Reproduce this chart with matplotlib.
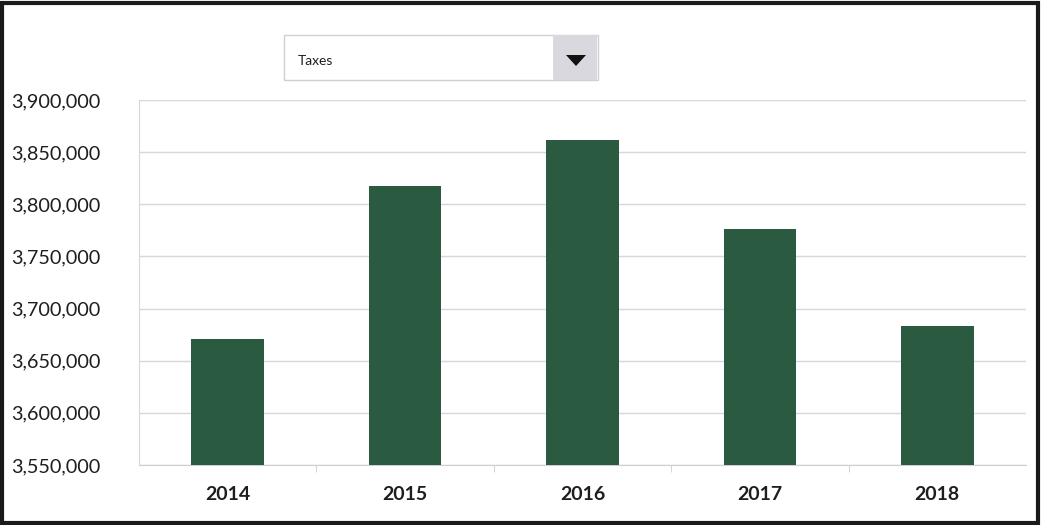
import matplotlib.pyplot as plt
import matplotlib.patches as mpatches
from matplotlib.ticker import FuncFormatter, FixedLocator

years = ["2014", "2015", "2016", "2017", "2018"]
taxes = [3671000, 3818000, 3862000, 3776000, 3683000]
selected = "Taxes"

plt.rcParams['font.family'] = ['Lato', 'DejaVu Sans']

fig = plt.figure(figsize=(10.42, 5.25), dpi=100)
ax = fig.add_axes([139 / 1042, 60 / 525, 887 / 1042, 365 / 525])

x = range(len(years))
ax.bar(x, taxes, width=0.41, color="#2a5a40", zorder=3)

ax.set_xlim(-0.5, len(years) - 0.5)
ax.set_ylim(3550000, 3900000)
ax.set_yticks(range(3550000, 3900001, 50000))
ax.yaxis.set_major_formatter(FuncFormatter(lambda v, p: f"{int(v):,}"))
ax.set_xticks(list(x))
ax.set_xticklabels(years, fontsize=14, fontweight="bold", color="#1e1e1e")
ax.xaxis.set_minor_locator(FixedLocator([i + 0.5 for i in range(len(years) - 1)]))
ax.tick_params(axis="x", which="major", length=0, pad=15)
ax.tick_params(axis="x", which="minor", length=5, color="#cfcfcf")
ax.tick_params(axis="y", length=0, pad=28, labelsize=14.3, labelcolor="#1e1e1e")

ax.grid(axis="y", color="#d6d6dc", linewidth=1, zorder=0)
for s in ["top", "right"]:
    ax.spines[s].set_visible(False)
ax.spines["left"].set_color("#d6d6dc")
ax.spines["bottom"].set_color("#cfcfcf")

# dropdown box
fig.patches.append(mpatches.Rectangle((284 / 1042, 1 - 80 / 525), 314 / 1042, 45 / 525,
                                      transform=fig.transFigure, facecolor="white",
                                      edgecolor="#d0d0d0", linewidth=1))
fig.patches.append(mpatches.Rectangle((553 / 1042, 1 - 80 / 525), 44 / 1042, 45 / 525,
                                      transform=fig.transFigure, facecolor="#d8d8de",
                                      edgecolor="none"))
fig.patches.append(mpatches.Polygon([(566 / 1042, 1 - 55 / 525), (586 / 1042, 1 - 55 / 525),
                                     (576 / 1042, 1 - 66 / 525)], closed=True,
                                    transform=fig.transFigure, facecolor="#111111"))
fig.text(298 / 1042, 1 - 61 / 525, selected, fontsize=10,
         va="center", color="#1e1e1e")

# outer frame
fig.patches.append(mpatches.Rectangle((2 / 1042, 2 / 525), 1036 / 1042, 520 / 525,
                                      transform=fig.transFigure, facecolor="none",
                                      edgecolor="#1a1a1a", linewidth=3))

fig.savefig("out.png", dpi=100)
